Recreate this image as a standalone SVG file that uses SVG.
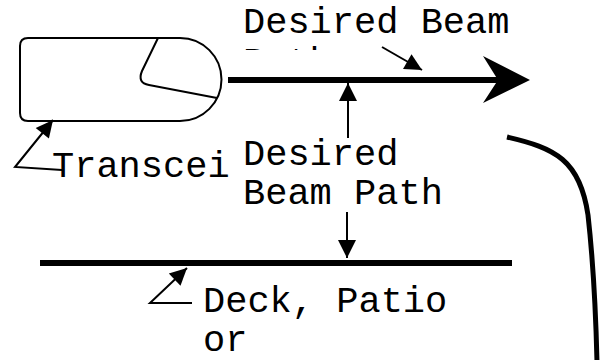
<svg xmlns="http://www.w3.org/2000/svg" width="605" height="360" viewBox="0 0 605 360">
<style>
.t{font-family:"Liberation Mono","Courier New",monospace;font-size:37px;fill:#000}
.thin{fill:none;stroke:#000;stroke-width:2}
.thick{fill:none;stroke:#000;stroke-width:5}
</style>
<defs>
<marker id="ah" viewBox="0 0 20 20" refX="20" refY="10" markerWidth="20" markerHeight="18" markerUnits="userSpaceOnUse" orient="auto">
<path d="M0,0 L20,10 L0,20 z" fill="#000"/>
</marker>
<marker id="ahs" viewBox="0 0 20 20" refX="20" refY="10" markerWidth="19" markerHeight="17" markerUnits="userSpaceOnUse" orient="auto">
<path d="M0,0 L20,10 L0,20 z" fill="#000"/>
</marker>
<clipPath id="clipTop"><rect x="230" y="0" width="320" height="50"/></clipPath>
</defs>
<rect width="605" height="360" fill="#fff"/>
<g id="transceiver">
<path class="thin" d="M28,38 L180,38 A41.5,41.5 0 0 1 180,121 L28,121 Q20,121 20,113 L20,46 Q20,38 28,38 z"/>
<path class="thin" d="M158,38 L142,71 Q137,83 149,85 L217,98"/>
</g>
<g id="deck">
<line x1="40" y1="263" x2="512" y2="263" stroke="#000" stroke-width="6"/>
</g>
<g id="curve">
<path class="thick" d="M507,137 C555,148 580,160 588,215 C593,260 596,320 597,362"/>
</g>
<g id="connectors">
<line x1="228" y1="80" x2="499" y2="80" stroke="#000" stroke-width="6"/>
<polygon points="530,80 483,56 498,80 483,103" fill="#000"/>
<line class="thin" x1="382" y1="47" x2="422" y2="70" marker-end="url(#ahs)"/>
<line class="thin" x1="348" y1="138" x2="348" y2="83" marker-end="url(#ah)"/>
<line class="thin" x1="347" y1="212" x2="347" y2="258" marker-end="url(#ah)"/>
<polyline class="thin" points="62,170 15,167 53,120" marker-end="url(#ahs)"/>
<polyline class="thin" points="192,303 150,303 187,268" marker-end="url(#ahs)"/>
</g>
<g id="label-top" clip-path="url(#clipTop)">
<text class="t" x="243" y="33">Desired Beam</text>
<text class="t" x="243" y="73">Path</text>
</g>
<g id="label-transceiver">
<text class="t" x="52" y="177">Transcei</text>
</g>
<g id="label-middle">
<text class="t" x="243" y="165">Desired</text>
<text class="t" x="243" y="204">Beam Path</text>
</g>
<g id="label-deck">
<text class="t" x="203" y="312">Deck, Patio</text>
<text class="t" x="203" y="351">or</text>
</g>
</svg>
